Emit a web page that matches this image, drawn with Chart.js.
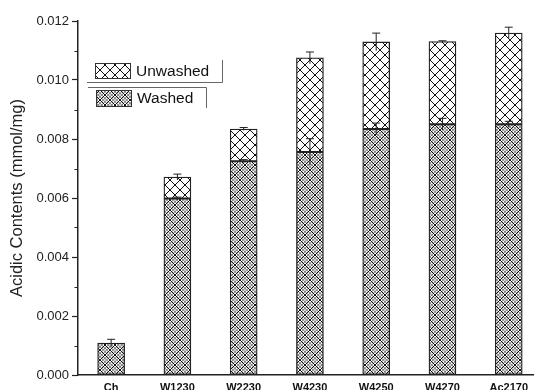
<!DOCTYPE html>
<html>
<head>
<meta charset="utf-8">
<script src="https://cdn.jsdelivr.net/npm/chart.js@4.4.1/dist/chart.umd.min.js"></script>
<style>
  html, body { margin: 0; padding: 0; background: #fff; }
</style>
</head>
<body>
<canvas id="acid" width="534" height="390"></canvas>
<script>
// values (mmol/mg)
const categories = ['Ch', 'W1230', 'W2230', 'W4230', 'W4250', 'W4270', 'Ac2170']
const washed = [0.00108, 0.00598, 0.00725, 0.00756, 0.00834, 0.0085, 0.0085]
const washedErr = [0.00013, 0.00005, 0.00005, 0.00045, 0.0002, 0.0002, 0.0001]
const unwashed = [null, 0.00671, 0.00834, 0.01075, 0.01129, 0.0113, 0.01159]
const unwashedErr = [0, 0.0001, 0.00005, 0.0002, 0.0003, 0.00003, 0.0002]
const yTicks = [0, 0.002, 0.004, 0.006, 0.008, 0.010, 0.012]
const yMinorTicks = [0.001, 0.003, 0.005, 0.007, 0.009, 0.011]

const font = 'Liberation Sans'

// crosshatch fills, the washed one gets an extra fine mesh
const hatch = (fine) => {
  const c = document.createElement('canvas')
  c.width = 10
  c.height = 10
  const g = c.getContext('2d')
  g.fillStyle = '#fff'
  g.fillRect(0, 0, 10, 10)
  const lines = (offsets) => {
    g.beginPath()
    offsets.forEach(o => {
      g.moveTo(o, 0); g.lineTo(o + 10, 10)
      g.moveTo(o + 10, 0); g.lineTo(o, 10)
    })
    g.stroke()
  }
  if (fine) {
    g.strokeStyle = '#666'
    g.lineWidth = 1
    lines([-10, -6.67, -3.33, 0, 3.33, 6.67, 10])
  }
  g.strokeStyle = '#111'
  g.lineWidth = 1
  lines([-10, 0, 10])
  return g.createPattern(c, 'repeat')
}
const washedFill = hatch(true)
const unwashedFill = hatch(false)

const errorBars = {
  id: 'errorBars',
  afterDatasetsDraw(chart) {
    const {ctx, scales: {y}} = chart
    ctx.save()
    ctx.strokeStyle = '#222'
    ctx.lineWidth = 1
    chart.data.datasets.forEach((ds, di) => {
      chart.getDatasetMeta(di).data.forEach((bar, i) => {
        const top = ds.tops[i]
        const e = ds.errs[i]
        if (top == null || !e) return
        const y0 = y.getPixelForValue(top - e)
        const y1 = y.getPixelForValue(top + e)
        ctx.beginPath()
        ctx.moveTo(bar.x, y0); ctx.lineTo(bar.x, y1)
        ctx.moveTo(bar.x - 4, y1); ctx.lineTo(bar.x + 4, y1)
        ctx.stroke()
      })
    })
    ctx.restore()
  }
}

const minorTicks = {
  id: 'minorTicks',
  afterDraw(chart) {
    const {ctx, scales: {y}} = chart
    ctx.save()
    ctx.strokeStyle = '#222'
    ctx.lineWidth = 1.2
    ctx.beginPath()
    yMinorTicks.forEach(v => {
      const py = Math.round(y.getPixelForValue(v)) + 0.5
      ctx.moveTo(y.right - 3.5, py)
      ctx.lineTo(y.right, py)
    })
    ctx.stroke()
    ctx.restore()
  }
}

// framed legend drawn in the plot, like the original
const boxLegend = {
  id: 'boxLegend',
  afterDraw(chart) {
    const {ctx} = chart
    const rows = [
      {ds: chart.data.datasets[1], sx: 95, sy: 63, sh: 15, tx: 136, line: [87, 82, 222, 60]},
      {ds: chart.data.datasets[0], sx: 96, sy: 90, sh: 16, tx: 137, line: [88, 87, 206, 108]}
    ]
    ctx.save()
    rows.forEach(r => {
      ctx.fillStyle = r.ds.backgroundColor
      ctx.fillRect(r.sx, r.sy, 35, r.sh)
      ctx.strokeStyle = '#333'
      ctx.lineWidth = 1
      ctx.strokeRect(r.sx + 0.5, r.sy + 0.5, 35, r.sh)
      ctx.fillStyle = '#111'
      ctx.font = '15.5px "' + font + '"'
      ctx.textBaseline = 'middle'
      ctx.fillText(r.ds.label, r.tx, r.sy + r.sh / 2 + 1)
      const [x0, yh, x1, yv] = r.line
      ctx.strokeStyle = '#666'
      ctx.beginPath()
      ctx.moveTo(x0, yh + 0.5); ctx.lineTo(x1 + 0.5, yh + 0.5); ctx.lineTo(x1 + 0.5, yv)
      ctx.stroke()
    })
    ctx.restore()
  }
}

const ctx = document.querySelector('#acid')
const acidChart = new Chart(ctx, {
  type: 'bar',
  data: {
    datasets: [
      {
        label: 'Washed',
        data: washed.map((v, i) => ({x: i, y: [0, v]})),
        tops: washed,
        errs: washedErr,
        backgroundColor: washedFill
      },
      {
        label: 'Unwashed',
        data: unwashed.map((v, i) => ({x: i, y: v == null ? null : [washed[i], v]})),
        tops: unwashed,
        errs: unwashedErr,
        backgroundColor: unwashedFill
      }
    ]
  },
  options: {
    responsive: false,
    animation: false,
    layout: {padding: {top: 21, right: 0, bottom: 0, left: 0}},
    datasets: {
      bar: {
        barThickness: 27,
        grouped: false,
        borderColor: '#222',
        borderWidth: 1.3,
        borderSkipped: false
      }
    },
    plugins: {
      legend: {display: false},
      tooltip: {enabled: false}
    },
    scales: {
      x: {
        type: 'linear',
        offset: false,
        min: -0.5,
        max: 6.38,
        afterBuildTicks: s => { s.ticks = categories.map((c, i) => ({value: i})) },
        afterFit: s => { s.height = 15 },
        grid: {display: false, drawTicks: false, offset: false},
        border: {display: true, color: '#222', width: 1.5},
        ticks: {
          callback: v => categories[v],
          autoSkip: false,
          maxRotation: 0,
          padding: 6,
          color: '#111',
          font: {family: font, size: 11, weight: 'bold'}
        }
      },
      y: {
        min: 0,
        max: 0.012,
        afterBuildTicks: s => { s.ticks = yTicks.map(v => ({value: v})) },
        afterFit: s => { s.width = 78 },
        grid: {drawOnChartArea: false, drawTicks: true, tickLength: 6, color: '#222', tickWidth: 1.2},
        border: {display: true, color: '#222', width: 1.5},
        ticks: {
          callback: v => v.toFixed(3),
          padding: 3,
          color: '#222',
          font: {family: font, size: 13}
        },
        title: {
          display: true,
          text: 'Acidic Contents (mmol/mg)',
          color: '#222',
          font: {family: font, size: 16.5},
          padding: {top: 8, bottom: 0}
        }
      }
    }
  },
  plugins: [errorBars, minorTicks, boxLegend]
})
</script>
</body>
</html>
